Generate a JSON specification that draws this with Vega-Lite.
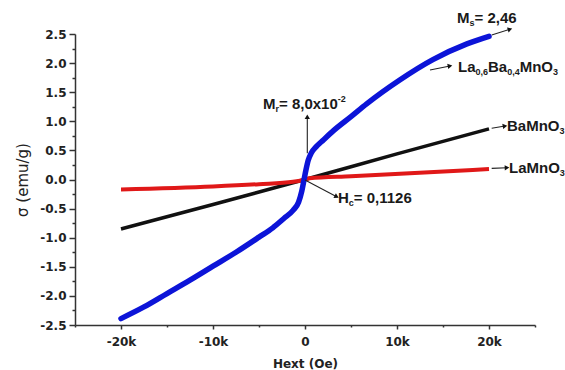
{
  "$schema": "https://vega.github.io/schema/vega-lite/v6.json",
  "autosize": {"type": "none"},
  "width": 460,
  "height": 291,
  "padding": {"left": 75, "top": 34, "right": 30, "bottom": 45},
  "background": "white",
  "config": {
    "view": {"stroke": null},
    "axis": {
      "grid": false,
      "domainColor": "#333",
      "domainWidth": 1.5,
      "tickColor": "#333",
      "tickWidth": 1.5,
      "labelFont": "DejaVu Sans",
      "labelFontWeight": "bold",
      "labelFontSize": 12,
      "labelColor": "#222",
      "titleColor": "#222"
    }
  },
  "datasets": {
    "curves": [
      {"sample": "BaMnO3", "H": -20000, "M": -0.85},
      {"sample": "BaMnO3", "H": -10000, "M": -0.43},
      {"sample": "BaMnO3", "H": 0, "M": 0},
      {"sample": "BaMnO3", "H": 10000, "M": 0.44},
      {"sample": "BaMnO3", "H": 20000, "M": 0.87},
      {"sample": "LaMnO3", "H": -20000, "M": -0.17},
      {"sample": "LaMnO3", "H": -10000, "M": -0.12},
      {"sample": "LaMnO3", "H": -5000, "M": -0.08},
      {"sample": "LaMnO3", "H": -1300, "M": -0.04},
      {"sample": "LaMnO3", "H": 0, "M": 0},
      {"sample": "LaMnO3", "H": 500, "M": 0.02},
      {"sample": "LaMnO3", "H": 5000, "M": 0.055},
      {"sample": "LaMnO3", "H": 11400, "M": 0.107},
      {"sample": "LaMnO3", "H": 20000, "M": 0.18},
      {"sample": "La0.6Ba0.4MnO3", "H": -20000, "M": -2.39},
      {"sample": "La0.6Ba0.4MnO3", "H": -17500, "M": -2.19},
      {"sample": "La0.6Ba0.4MnO3", "H": -15000, "M": -1.96},
      {"sample": "La0.6Ba0.4MnO3", "H": -12500, "M": -1.73},
      {"sample": "La0.6Ba0.4MnO3", "H": -10000, "M": -1.49},
      {"sample": "La0.6Ba0.4MnO3", "H": -7500, "M": -1.25},
      {"sample": "La0.6Ba0.4MnO3", "H": -5000, "M": -0.99},
      {"sample": "La0.6Ba0.4MnO3", "H": -3500, "M": -0.83},
      {"sample": "La0.6Ba0.4MnO3", "H": -2300, "M": -0.67},
      {"sample": "La0.6Ba0.4MnO3", "H": -1300, "M": -0.53},
      {"sample": "La0.6Ba0.4MnO3", "H": -700, "M": -0.39},
      {"sample": "La0.6Ba0.4MnO3", "H": -350, "M": -0.2},
      {"sample": "La0.6Ba0.4MnO3", "H": -100, "M": 0.0},
      {"sample": "La0.6Ba0.4MnO3", "H": 100, "M": 0.16},
      {"sample": "La0.6Ba0.4MnO3", "H": 350, "M": 0.33},
      {"sample": "La0.6Ba0.4MnO3", "H": 700, "M": 0.46},
      {"sample": "La0.6Ba0.4MnO3", "H": 1200, "M": 0.56},
      {"sample": "La0.6Ba0.4MnO3", "H": 2000, "M": 0.68},
      {"sample": "La0.6Ba0.4MnO3", "H": 3100, "M": 0.84},
      {"sample": "La0.6Ba0.4MnO3", "H": 5000, "M": 1.08},
      {"sample": "La0.6Ba0.4MnO3", "H": 6700, "M": 1.3},
      {"sample": "La0.6Ba0.4MnO3", "H": 10300, "M": 1.71},
      {"sample": "La0.6Ba0.4MnO3", "H": 13900, "M": 2.06},
      {"sample": "La0.6Ba0.4MnO3", "H": 17600, "M": 2.33},
      {"sample": "La0.6Ba0.4MnO3", "H": 20000, "M": 2.46}
    ],
    "arrows": [
      {"note": "Ms", "H": 20293, "M": 2.483, "H2": 22283, "M2": 2.581},
      {"note": "La0.6Ba0.4MnO3", "H": 13587, "M": 1.881, "H2": 15761, "M2": 1.95},
      {"note": "Mr", "H": 250, "M": 0.45, "H2": 250, "M2": 1.079},
      {"note": "BaMnO3", "H": 20293, "M": 0.88, "H2": 21739, "M2": 0.919},
      {"note": "LaMnO3", "H": 20293, "M": 0.192, "H2": 21957, "M2": 0.203},
      {"note": "Hc", "H": 0, "M": -0.009, "H2": 3446, "M2": -0.296}
    ],
    "labels": [
      {"t": "M", "H": 16522, "M": 2.775, "kind": "main"},
      {"t": "s", "H": 17880, "M": 2.689, "kind": "sub"},
      {"t": "= 2,46", "H": 18424, "M": 2.775, "kind": "main"},
      {"t": "La", "H": 16630, "M": 1.933, "kind": "main"},
      {"t": "0,6", "H": 18533, "M": 1.847, "kind": "sub"},
      {"t": "Ba", "H": 19891, "M": 1.933, "kind": "main"},
      {"t": "0,4", "H": 21978, "M": 1.847, "kind": "sub"},
      {"t": "MnO", "H": 23337, "M": 1.933, "kind": "main"},
      {"t": "3", "H": 26957, "M": 1.847, "kind": "sub"},
      {"t": "BaMnO", "H": 21957, "M": 0.919, "kind": "main"},
      {"t": "3", "H": 27663, "M": 0.833, "kind": "sub"},
      {"t": "LaMnO", "H": 22174, "M": 0.198, "kind": "main"},
      {"t": "3", "H": 27696, "M": 0.112, "kind": "sub"},
      {"t": "M", "H": -4565, "M": 1.297, "kind": "main"},
      {"t": "r", "H": -3207, "M": 1.211, "kind": "sub"},
      {"t": "= 8,0x10", "H": -2826, "M": 1.297, "kind": "main"},
      {"t": "-2", "H": 3565, "M": 1.383, "kind": "sup"},
      {"t": "H", "H": 3587, "M": -0.318, "kind": "main"},
      {"t": "c", "H": 4761, "M": -0.404, "kind": "sub"},
      {"t": "= 0,1126", "H": 5304, "M": -0.318, "kind": "main"}
    ]
  },
  "encoding": {
    "x": {
      "field": "H",
      "type": "quantitative",
      "scale": {"domain": [-25000, 25000], "nice": false, "zero": false},
      "axis": {
        "title": "Hext (Oe)",
        "values": [-25000, -20000, -15000, -10000, -5000, 0, 5000, 10000, 15000, 20000, 25000],
        "labelExpr": "datum.value % 10000 == 0 ? (datum.value == 0 ? '0' : (datum.value / 1000) + 'k') : ''",
        "tickSize": 4,
        "tickDash": {"condition": {"test": "datum.value % 10000 != 0", "value": [2, 20]}, "value": [20, 0]},
        "labelOverlap": false,
        "labelFlush": false,
        "labelPadding": 7,
        "titleFont": "DejaVu Sans",
        "titleFontWeight": "bold",
        "titleFontSize": 12,
        "titlePadding": 11
      }
    },
    "y": {
      "field": "M",
      "type": "quantitative",
      "scale": {"domain": [-2.5, 2.5], "nice": false, "zero": false},
      "axis": {
        "title": "σ (emu/g)",
        "values": [-2.5, -2.25, -2, -1.75, -1.5, -1.25, -1, -0.75, -0.5, -0.25, 0, 0.25, 0.5, 0.75, 1, 1.25, 1.5, 1.75, 2, 2.25, 2.5],
        "labelExpr": "abs(datum.value * 2 - round(datum.value * 2)) < 0.001 ? ((datum.value < 0 ? '-' : '') + format(abs(datum.value), '.1f')) : ''",
        "tickSize": 6,
        "tickDash": {"condition": {"test": "abs(datum.value * 2 - round(datum.value * 2)) > 0.001", "value": [3, 20]}, "value": [20, 0]},
        "labelOverlap": false,
        "labelPadding": 3,
        "titleFont": "DejaVu Sans",
        "titleFontWeight": "normal",
        "titleFontSize": 15,
        "titlePadding": 9
      }
    }
  },
  "layer": [
    {
      "data": {"name": "curves"},
      "transform": [{"filter": "datum.sample == 'BaMnO3'"}],
      "mark": {"type": "line", "color": "#111111", "strokeWidth": 3.5, "interpolate": "monotone"}
    },
    {
      "data": {"name": "curves"},
      "transform": [{"filter": "datum.sample == 'LaMnO3'"}],
      "mark": {"type": "line", "color": "#e01818", "strokeWidth": 4, "interpolate": "monotone"}
    },
    {
      "data": {"name": "curves"},
      "transform": [{"filter": "datum.sample == 'La0.6Ba0.4MnO3'"}],
      "mark": {"type": "line", "color": "#0c14d8", "strokeWidth": 5.5, "interpolate": "monotone", "strokeCap": "round"}
    },
    {
      "data": {"name": "arrows"},
      "mark": {"type": "rule", "color": "#222", "strokeWidth": 1.1},
      "encoding": {
        "x2": {"field": "H2"},
        "y2": {"field": "M2"}
      }
    },
    {
      "data": {"name": "arrows"},
      "transform": [
        {"calculate": "atan2((datum.M - datum.M2) * 58.2, (datum.H2 - datum.H) * 0.0092) * 180 / PI", "as": "ang"}
      ],
      "mark": {"type": "point", "shape": "triangle-right", "filled": true, "color": "#111", "size": 28, "opacity": 1},
      "encoding": {
        "x": {"field": "H2", "type": "quantitative"},
        "y": {"field": "M2", "type": "quantitative"},
        "angle": {"field": "ang", "type": "quantitative", "scale": null}
      }
    },
    {
      "data": {"name": "labels"},
      "transform": [{"filter": "datum.kind == 'main'"}],
      "mark": {"type": "text", "align": "left", "baseline": "middle", "font": "Liberation Sans", "fontWeight": "bold", "fontSize": 15, "color": "#1a1a1a"},
      "encoding": {"text": {"field": "t"}}
    },
    {
      "data": {"name": "labels"},
      "transform": [{"filter": "datum.kind != 'main'"}],
      "mark": {"type": "text", "align": "left", "baseline": "middle", "font": "Liberation Sans", "fontWeight": "bold", "fontSize": 9, "color": "#1a1a1a"},
      "encoding": {"text": {"field": "t"}}
    }
  ]
}
